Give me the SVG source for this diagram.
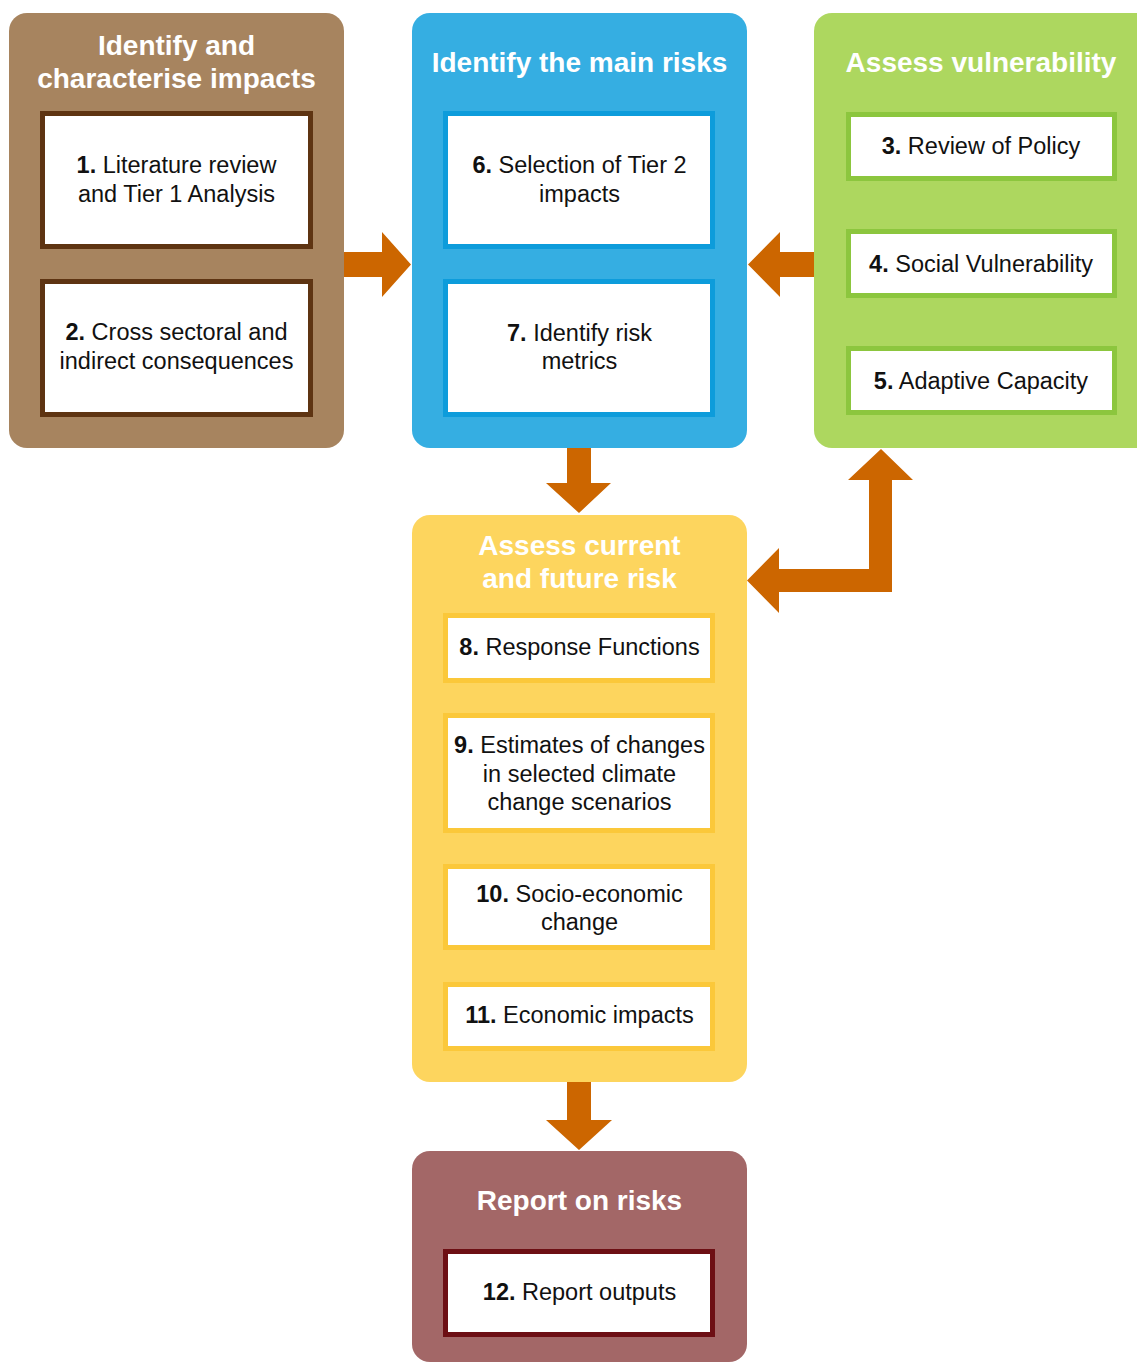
<svg xmlns="http://www.w3.org/2000/svg" width="1137" height="1363" viewBox="0 0 1137 1363">
<style>
.title{font-family:"Liberation Sans",Arial,sans-serif;font-weight:bold;font-size:28px;fill:#ffffff;text-anchor:middle}
.lbl{font-family:"Liberation Sans",Arial,sans-serif;font-size:23.5px;fill:#111111;text-anchor:middle}
.num{font-weight:bold}
.box{fill:#ffffff;stroke-width:5}
.arrow{fill:#cc6600}
</style>
<rect width="1137" height="1363" fill="#ffffff"/>
<g id="connectors">
<polygon class="arrow" points="344,252 382,252 382,232 411,264.5 382,297 382,277 344,277"/>
<polygon class="arrow" points="814,252 780,252 780,232 748,264.5 780,297 780,277 814,277"/>
<polygon class="arrow" points="567,448 591,448 591,483 611,483 579,513 546,483 567,483"/>
<polygon class="arrow" points="881,449 913,480 892,480 892,592 779,592 779,613 747,580.5 779,548 779,569 869,569 869,480 848,480"/>
<polygon class="arrow" points="567,1082 591,1082 591,1120 612,1120 579,1150 546,1120 567,1120"/>
</g>
<g id="impacts">
<rect x="9" y="13" width="335" height="435" rx="18" fill="#a7845f"/>
<text class="title" x="176.5" y="55">Identify and</text>
<text class="title" x="176.5" y="88">characterise impacts</text>
</g>
<g id="node1">
<rect class="box" x="42.5" y="113.5" width="268" height="133" stroke="#5e3412"/>
<text class="lbl" x="176.5" y="173"><tspan class="num">1.</tspan> Literature review</text>
<text class="lbl" x="176.5" y="202">and Tier 1 Analysis</text>
</g>
<g id="node2">
<rect class="box" x="42.5" y="281.5" width="268" height="133" stroke="#5e3412"/>
<text class="lbl" x="176.5" y="340"><tspan class="num">2.</tspan> Cross sectoral and</text>
<text class="lbl" x="176.5" y="369">indirect consequences</text>
</g>
<g id="mainrisks">
<rect x="412" y="13" width="335" height="435" rx="18" fill="#35aee2"/>
<text class="title" x="579.5" y="72">Identify the main risks</text>
</g>
<g id="node6">
<rect class="box" x="445.5" y="113.5" width="267" height="133" stroke="#0d9cdb"/>
<text class="lbl" x="579.5" y="173"><tspan class="num">6.</tspan> Selection of Tier 2</text>
<text class="lbl" x="579.5" y="202">impacts</text>
</g>
<g id="node7">
<rect class="box" x="445.5" y="281.5" width="267" height="133" stroke="#0d9cdb"/>
<text class="lbl" x="579.5" y="341"><tspan class="num">7.</tspan> Identify risk</text>
<text class="lbl" x="579.5" y="369">metrics</text>
</g>
<g id="vulnerability">
<rect x="814" y="13" width="340" height="435" rx="18" fill="#add75f"/>
<text class="title" x="981" y="72">Assess vulnerability</text>
</g>
<g id="node3">
<rect class="box" x="848.5" y="114.5" width="266" height="64" stroke="#8cc63e"/>
<text class="lbl" x="981" y="154"><tspan class="num">3.</tspan> Review of Policy</text>
</g>
<g id="node4">
<rect class="box" x="848.5" y="231.5" width="266" height="64" stroke="#8cc63e"/>
<text class="lbl" x="981" y="272"><tspan class="num">4.</tspan> Social Vulnerability</text>
</g>
<g id="node5">
<rect class="box" x="848.5" y="348.5" width="266" height="64" stroke="#8cc63e"/>
<text class="lbl" x="981" y="389"><tspan class="num">5.</tspan> Adaptive Capacity</text>
</g>
<g id="currentfuture">
<rect x="412" y="515" width="335" height="567" rx="18" fill="#fdd55e"/>
<text class="title" x="579.5" y="555">Assess current</text>
<text class="title" x="579.5" y="588">and future risk</text>
</g>
<g id="node8">
<rect class="box" x="445.5" y="615.5" width="267" height="65" stroke="#fbc83a"/>
<text class="lbl" x="579.5" y="655"><tspan class="num">8.</tspan> Response Functions</text>
</g>
<g id="node9">
<rect class="box" x="445.5" y="715.5" width="267" height="115" stroke="#fbc83a"/>
<text class="lbl" x="579.5" y="753"><tspan class="num">9.</tspan> Estimates of changes</text>
<text class="lbl" x="579.5" y="781.5">in selected climate</text>
<text class="lbl" x="579.5" y="810">change scenarios</text>
</g>
<g id="node10">
<rect class="box" x="445.5" y="866.5" width="267" height="81" stroke="#fbc83a"/>
<text class="lbl" x="579.5" y="902"><tspan class="num">10.</tspan> Socio-economic</text>
<text class="lbl" x="579.5" y="930">change</text>
</g>
<g id="node11">
<rect class="box" x="445.5" y="984.5" width="267" height="64" stroke="#fbc83a"/>
<text class="lbl" x="579.5" y="1023"><tspan class="num">11.</tspan> Economic impacts</text>
</g>
<g id="report">
<rect x="412" y="1151" width="335" height="211" rx="18" fill="#a36767"/>
<text class="title" x="579.5" y="1210">Report on risks</text>
</g>
<g id="node12">
<rect class="box" x="445.5" y="1251.5" width="267" height="83" stroke="#6d0f14"/>
<text class="lbl" x="579.5" y="1300"><tspan class="num">12.</tspan> Report outputs</text>
</g>
</svg>
